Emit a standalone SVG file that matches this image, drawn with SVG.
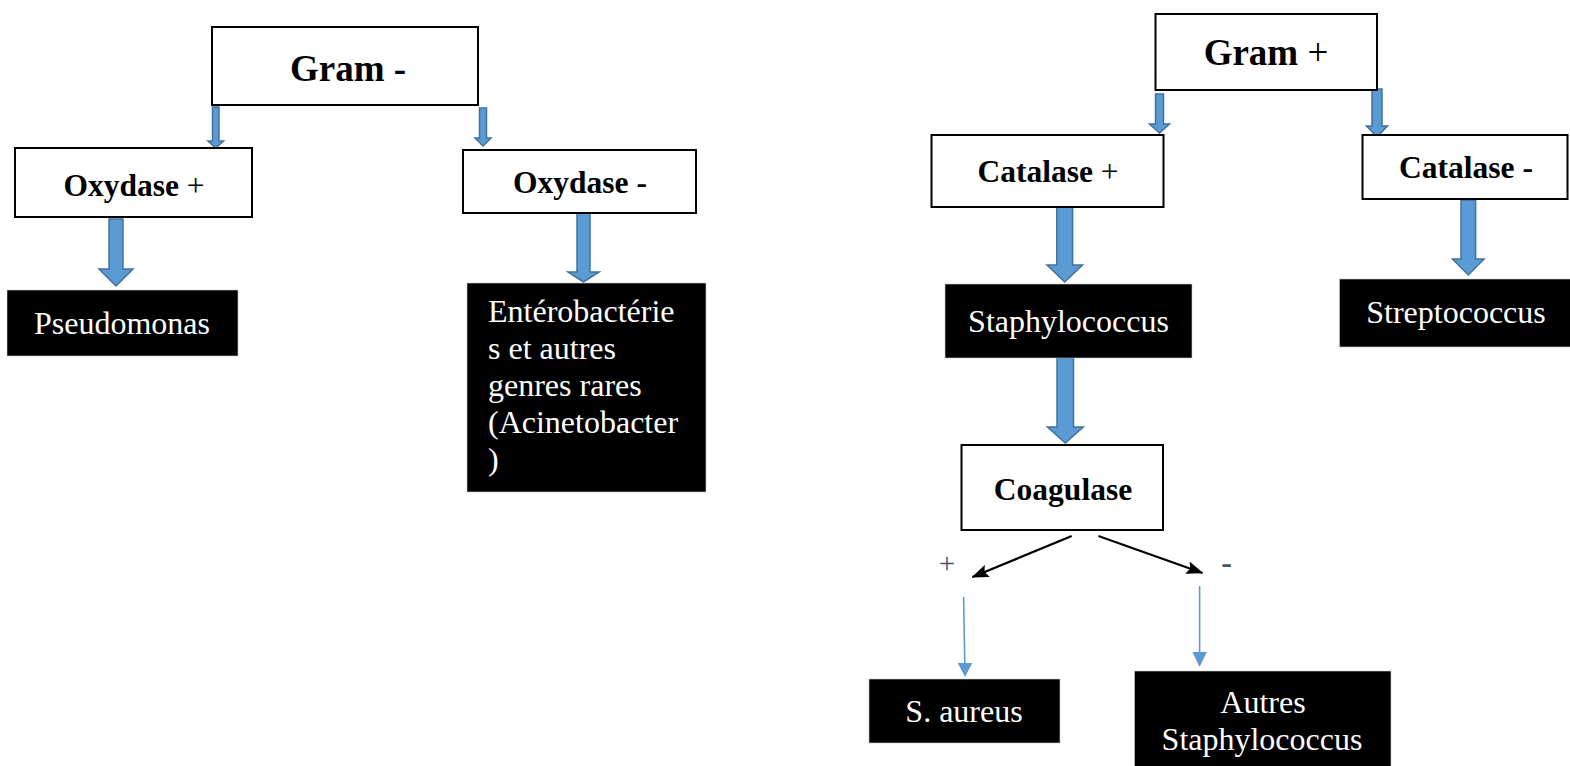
<svg xmlns="http://www.w3.org/2000/svg" width="1570" height="766" viewBox="0 0 1570 766">
<style>
.box{fill:#fff;stroke:#000;stroke-width:2}
.dark{fill:#000;stroke:#d0d0d0;stroke-width:0.6}
.bt{font-family:"Liberation Serif","Times New Roman",serif;font-weight:bold;fill:#000;text-anchor:middle}
.wt{font-family:"Liberation Serif","Times New Roman",serif;fill:#fff;font-size:32px}
.blk{fill:#5b9bd5;stroke:#41719c;stroke-width:1.5;stroke-linejoin:miter}
.thin{stroke:#5b9bd5;stroke-width:1.6;fill:none}
.blkline{stroke:#000;stroke-width:2.2;fill:none}
.sign{font-family:"Liberation Serif","Times New Roman",serif;fill:#44546a;text-anchor:middle}
</style>
<defs>
<marker id="ah" markerWidth="17" markerHeight="13" refX="16" refY="6.5" orient="auto" markerUnits="userSpaceOnUse" viewBox="0 0 17 13">
<path d="M0,0 L17,6.5 L0,13 L3,6.5 Z" fill="#000"/>
</marker>
</defs>
<rect width="1570" height="766" fill="#fff"/>

<g id="connectors">
<path class="blk" d="M212.5,107 H219 V141 H223.5 L215.7,148 L208,141 H212.5 Z"/>
<path class="blk" d="M479.5,108 H486.5 V138 H491 L483,146 L475,138 H479.5 Z"/>
<path class="blk" d="M109,219 H123 V269 H133 L116,286 L99,269 H109 Z"/>
<path class="blk" d="M577,213 H590 V272 H599 L583.5,282 L568,272 H577 Z"/>
<path class="blk" d="M1155.5,94 H1163.5 V124 H1169.5 L1159.5,133 L1149.5,124 H1155.5 Z"/>
<path class="blk" d="M1372,89 H1382 V126 H1387.5 L1377,137 L1366.5,126 H1372 Z"/>
<path class="blk" d="M1056.8,207 H1072.6 V265 H1082.5 L1064.7,282 L1047,265 H1056.8 Z"/>
<path class="blk" d="M1461,200 H1475.6 V259 H1484 L1468.3,275 L1452.5,259 H1461 Z"/>
<path class="blk" d="M1057,358 H1073.5 V427 H1083.3 L1065.3,443 L1047.5,427 H1057 Z"/>
<line class="blkline" x1="1071.7" y1="536" x2="972.5" y2="577" marker-end="url(#ah)"/>
<line class="blkline" x1="1098.4" y1="536" x2="1202.5" y2="573" marker-end="url(#ah)"/>
<line class="thin" x1="963.6" y1="597" x2="964.8" y2="664"/>
<path d="M957.8,663 H972.3 L965,677 Z" fill="#5b9bd5"/>
<line class="thin" x1="1199.6" y1="586" x2="1199.6" y2="653"/>
<path d="M1192.4,652 H1206.8 L1199.6,667 Z" fill="#5b9bd5"/>
</g>

<g id="gram-neg">
<rect class="box" x="212" y="27" width="266" height="78"/>
<text class="bt" x="348" y="81" font-size="37">Gram -</text>
</g>
<g id="oxydase-pos">
<rect class="box" x="15" y="148" width="237" height="69"/>
<text class="bt" x="134" y="196" font-size="31.5">Oxydase <tspan font-weight="normal">+</tspan></text>
</g>
<g id="oxydase-neg">
<rect class="box" x="463" y="150" width="233" height="63"/>
<text class="bt" x="580" y="193" font-size="31.5">Oxydase -</text>
</g>
<g id="pseudomonas">
<rect class="dark" x="7" y="290" width="231" height="66"/>
<text class="wt" x="122" y="334" text-anchor="middle">Pseudomonas</text>
</g>
<g id="enterobacteries">
<rect class="dark" x="467" y="283" width="239" height="209"/>
<text class="wt" x="488" y="322">Entérobactérie</text>
<text class="wt" x="488" y="359">s et autres</text>
<text class="wt" x="488" y="396">genres rares</text>
<text class="wt" x="488" y="433">(Acinetobacter</text>
<text class="wt" x="488" y="470">)</text>
</g>

<g id="gram-pos">
<rect class="box" x="1155.5" y="14" width="221.5" height="76"/>
<text class="bt" x="1266" y="65" font-size="37">Gram <tspan font-weight="normal">+</tspan></text>
</g>
<g id="catalase-pos">
<rect class="box" x="931.5" y="135" width="232" height="72"/>
<text class="bt" x="1048" y="182" font-size="31.5">Catalase <tspan font-weight="normal">+</tspan></text>
</g>
<g id="catalase-neg">
<rect class="box" x="1362.5" y="135" width="205" height="64"/>
<text class="bt" x="1466" y="178" font-size="31.5">Catalase -</text>
</g>
<g id="staphylococcus">
<rect class="dark" x="945" y="284" width="247" height="74"/>
<text class="wt" x="1068.5" y="332" text-anchor="middle">Staphylococcus</text>
</g>
<g id="streptococcus">
<rect class="dark" x="1339.5" y="279" width="231" height="68"/>
<text class="wt" x="1456" y="323" text-anchor="middle">Streptococcus</text>
</g>
<g id="coagulase">
<rect class="box" x="961.5" y="445" width="201.5" height="85"/>
<text class="bt" x="1063" y="500" font-size="31.5">Coagulase</text>
</g>
<g id="sign-pos">
<text class="sign" x="947" y="573" font-size="29">+</text>
</g>
<g id="sign-neg">
<text class="sign" x="1226.5" y="573" font-size="32" font-weight="bold">-</text>
</g>
<g id="s-aureus">
<rect class="dark" x="869" y="679" width="191" height="64"/>
<text class="wt" x="964" y="722" text-anchor="middle">S. aureus</text>
</g>
<g id="autres-staph">
<rect class="dark" x="1134.5" y="671" width="256.5" height="97"/>
<text class="wt" x="1263" y="713" text-anchor="middle">Autres</text>
<text class="wt" x="1262" y="750" text-anchor="middle">Staphylococcus</text>
</g>
</svg>
